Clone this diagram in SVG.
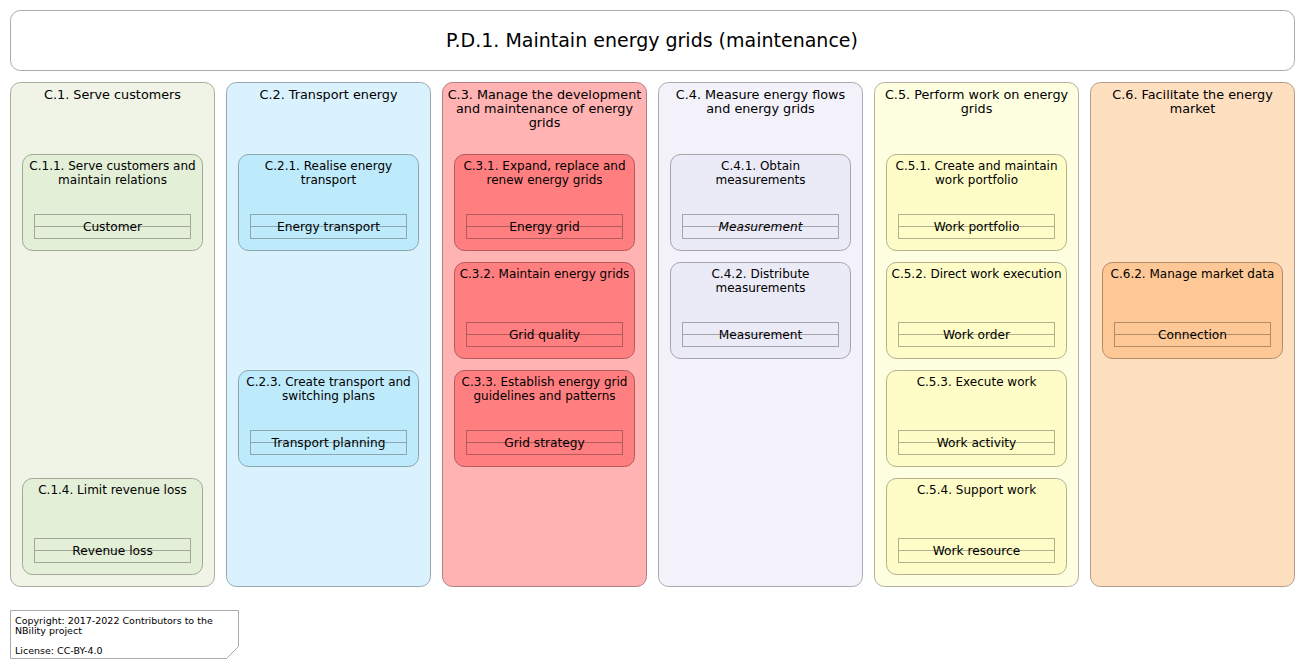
<svg xmlns="http://www.w3.org/2000/svg" width="1305" height="669" viewBox="0 0 1305 669">
<style>
text{font-family:"DejaVu Sans",sans-serif;fill:#000;text-anchor:middle}
.t{font-size:19px}
.h{font-size:12.8px}
.s{font-size:12px}
.o{font-size:12.2px}
.i{font-style:italic}
.c{font-size:9.5px;text-anchor:start}
.obj{fill:none;stroke-width:1}
.c1{fill:#EFF4E6;stroke:#A7AC9F}.c1i{fill:#E3EFD7;stroke:#A1A898}.c1o{stroke:#A1A898}
.c2{fill:#DAF2FD;stroke:#96A9B2}.c2i{fill:#BEEBFC;stroke:#8DA5AF}.c2o{stroke:#8DA5AF}
.c3{fill:#FFB3B3;stroke:#B27D7D}.c3i{fill:#FF7F80;stroke:#B35A5A}.c3o{stroke:#B35A5A}
.c4{fill:#F3F2FB;stroke:#AAA9B0}.c4i{fill:#EBEAF7;stroke:#A5A4AD}.c4o{stroke:#A5A4AD}
.c5{fill:#FEFEE0;stroke:#B2B19D}.c5i{fill:#FEFDC8;stroke:#B2B18C}.c5o{stroke:#B2B18C}
.c6{fill:#FEDFC0;stroke:#B29C86}.c6i{fill:#FEC896;stroke:#B28C69}.c6o{stroke:#B28C69}
</style>
<g id="title">
<rect x="10.5" y="10.5" width="1284" height="60" rx="10" fill="#fff" stroke="#AAAAAA"/>
<text class="t" x="652" y="47">P.D.1. Maintain energy grids (maintenance)</text>
</g>
<g id="C1">
<rect class="c1" x="10.5" y="82.5" width="204" height="504" rx="10"/>
<text class="h" x="112.5" y="99">C.1. Serve customers</text>
</g>
<g id="C11">
<rect class="c1i" x="22.5" y="154.5" width="180" height="96" rx="10"/>
<text class="s" x="112.5" y="170">C.1.1. Serve customers and</text>
<text class="s" x="112.5" y="184">maintain relations</text>
<rect class="obj c1o" x="34.5" y="214.5" width="156" height="24"/><line class="c1o" x1="34.5" y1="226.5" x2="190.5" y2="226.5"/>
<text class="o" x="112.5" y="231">Customer</text>
</g>
<g id="C14">
<rect class="c1i" x="22.5" y="478.5" width="180" height="96" rx="10"/>
<text class="s" x="112.5" y="494">C.1.4. Limit revenue loss</text>
<rect class="obj c1o" x="34.5" y="538.5" width="156" height="24"/><line class="c1o" x1="34.5" y1="550.5" x2="190.5" y2="550.5"/>
<text class="o" x="112.5" y="555">Revenue loss</text>
</g>
<g id="C2">
<rect class="c2" x="226.5" y="82.5" width="204" height="504" rx="10"/>
<text class="h" x="328.5" y="99">C.2. Transport energy</text>
</g>
<g id="C21">
<rect class="c2i" x="238.5" y="154.5" width="180" height="96" rx="10"/>
<text class="s" x="328.5" y="170">C.2.1. Realise energy</text>
<text class="s" x="328.5" y="184">transport</text>
<rect class="obj c2o" x="250.5" y="214.5" width="156" height="24"/><line class="c2o" x1="250.5" y1="226.5" x2="406.5" y2="226.5"/>
<text class="o" x="328.5" y="231">Energy transport</text>
</g>
<g id="C23">
<rect class="c2i" x="238.5" y="370.5" width="180" height="96" rx="10"/>
<text class="s" x="328.5" y="386">C.2.3. Create transport and</text>
<text class="s" x="328.5" y="400">switching plans</text>
<rect class="obj c2o" x="250.5" y="430.5" width="156" height="24"/><line class="c2o" x1="250.5" y1="442.5" x2="406.5" y2="442.5"/>
<text class="o" x="328.5" y="447">Transport planning</text>
</g>
<g id="C3">
<rect class="c3" x="442.5" y="82.5" width="204" height="504" rx="10"/>
<text class="h" x="544.5" y="99">C.3. Manage the development</text>
<text class="h" x="544.5" y="113">and maintenance of energy</text>
<text class="h" x="544.5" y="127">grids</text>
</g>
<g id="C31">
<rect class="c3i" x="454.5" y="154.5" width="180" height="96" rx="10"/>
<text class="s" x="544.5" y="170">C.3.1. Expand, replace and</text>
<text class="s" x="544.5" y="184">renew energy grids</text>
<rect class="obj c3o" x="466.5" y="214.5" width="156" height="24"/><line class="c3o" x1="466.5" y1="226.5" x2="622.5" y2="226.5"/>
<text class="o" x="544.5" y="231">Energy grid</text>
</g>
<g id="C32">
<rect class="c3i" x="454.5" y="262.5" width="180" height="96" rx="10"/>
<text class="s" x="544.5" y="278">C.3.2. Maintain energy grids</text>
<rect class="obj c3o" x="466.5" y="322.5" width="156" height="24"/><line class="c3o" x1="466.5" y1="334.5" x2="622.5" y2="334.5"/>
<text class="o" x="544.5" y="339">Grid quality</text>
</g>
<g id="C33">
<rect class="c3i" x="454.5" y="370.5" width="180" height="96" rx="10"/>
<text class="s" x="544.5" y="386">C.3.3. Establish energy grid</text>
<text class="s" x="544.5" y="400">guidelines and patterns</text>
<rect class="obj c3o" x="466.5" y="430.5" width="156" height="24"/><line class="c3o" x1="466.5" y1="442.5" x2="622.5" y2="442.5"/>
<text class="o" x="544.5" y="447">Grid strategy</text>
</g>
<g id="C4">
<rect class="c4" x="658.5" y="82.5" width="204" height="504" rx="10"/>
<text class="h" x="760.5" y="99">C.4. Measure energy flows</text>
<text class="h" x="760.5" y="113">and energy grids</text>
</g>
<g id="C41">
<rect class="c4i" x="670.5" y="154.5" width="180" height="96" rx="10"/>
<text class="s" x="760.5" y="170">C.4.1. Obtain</text>
<text class="s" x="760.5" y="184">measurements</text>
<rect class="obj c4o" x="682.5" y="214.5" width="156" height="24"/><line class="c4o" x1="682.5" y1="226.5" x2="838.5" y2="226.5"/>
<text class="o i" x="760.5" y="231">Measurement</text>
</g>
<g id="C42">
<rect class="c4i" x="670.5" y="262.5" width="180" height="96" rx="10"/>
<text class="s" x="760.5" y="278">C.4.2. Distribute</text>
<text class="s" x="760.5" y="292">measurements</text>
<rect class="obj c4o" x="682.5" y="322.5" width="156" height="24"/><line class="c4o" x1="682.5" y1="334.5" x2="838.5" y2="334.5"/>
<text class="o" x="760.5" y="339">Measurement</text>
</g>
<g id="C5">
<rect class="c5" x="874.5" y="82.5" width="204" height="504" rx="10"/>
<text class="h" x="976.5" y="99">C.5. Perform work on energy</text>
<text class="h" x="976.5" y="113">grids</text>
</g>
<g id="C51">
<rect class="c5i" x="886.5" y="154.5" width="180" height="96" rx="10"/>
<text class="s" x="976.5" y="170">C.5.1. Create and maintain</text>
<text class="s" x="976.5" y="184">work portfolio</text>
<rect class="obj c5o" x="898.5" y="214.5" width="156" height="24"/><line class="c5o" x1="898.5" y1="226.5" x2="1054.5" y2="226.5"/>
<text class="o" x="976.5" y="231">Work portfolio</text>
</g>
<g id="C52">
<rect class="c5i" x="886.5" y="262.5" width="180" height="96" rx="10"/>
<text class="s" x="976.5" y="278">C.5.2. Direct work execution</text>
<rect class="obj c5o" x="898.5" y="322.5" width="156" height="24"/><line class="c5o" x1="898.5" y1="334.5" x2="1054.5" y2="334.5"/>
<text class="o" x="976.5" y="339">Work order</text>
</g>
<g id="C53">
<rect class="c5i" x="886.5" y="370.5" width="180" height="96" rx="10"/>
<text class="s" x="976.5" y="386">C.5.3. Execute work</text>
<rect class="obj c5o" x="898.5" y="430.5" width="156" height="24"/><line class="c5o" x1="898.5" y1="442.5" x2="1054.5" y2="442.5"/>
<text class="o" x="976.5" y="447">Work activity</text>
</g>
<g id="C54">
<rect class="c5i" x="886.5" y="478.5" width="180" height="96" rx="10"/>
<text class="s" x="976.5" y="494">C.5.4. Support work</text>
<rect class="obj c5o" x="898.5" y="538.5" width="156" height="24"/><line class="c5o" x1="898.5" y1="550.5" x2="1054.5" y2="550.5"/>
<text class="o" x="976.5" y="555">Work resource</text>
</g>
<g id="C6">
<rect class="c6" x="1090.5" y="82.5" width="204" height="504" rx="10"/>
<text class="h" x="1192.5" y="99">C.6. Facilitate the energy</text>
<text class="h" x="1192.5" y="113">market</text>
</g>
<g id="C62">
<rect class="c6i" x="1102.5" y="262.5" width="180" height="96" rx="10"/>
<text class="s" x="1192.5" y="278">C.6.2. Manage market data</text>
<rect class="obj c6o" x="1114.5" y="322.5" width="156" height="24"/><line class="c6o" x1="1114.5" y1="334.5" x2="1270.5" y2="334.5"/>
<text class="o" x="1192.5" y="339">Connection</text>
</g>
<g id="connectors"></g>
<g id="note">
<path d="M10.5 610.5 H238.5 V646.5 L226.5 658.5 H10.5 Z" fill="#fff" stroke="#AAAAAA"/>
<path d="M226.5 658.5 L238.5 646.5" fill="none" stroke="#AAAAAA"/>
<text class="c" x="15" y="624">Copyright: 2017-2022 Contributors to the</text>
<text class="c" x="15" y="634">NBility project</text>
<text class="c" x="15" y="654">License: CC-BY-4.0</text>
</g>
</svg>
